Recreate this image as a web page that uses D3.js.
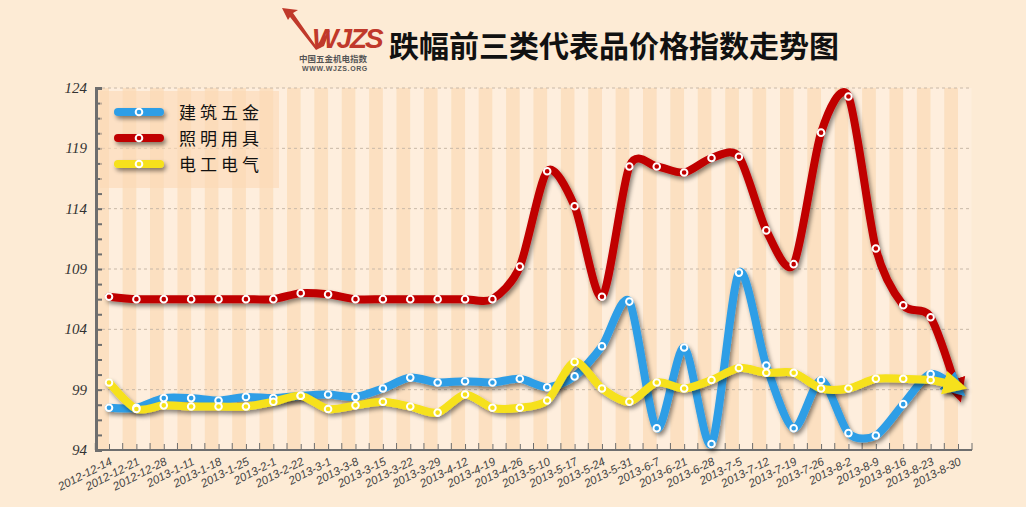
<!DOCTYPE html>
<html><head><meta charset="utf-8">
<script src="https://cdn.jsdelivr.net/npm/d3@7/dist/d3.min.js"></script>
<style>body{margin:0;background:#fdebd5;}svg{display:block;font-family:"Liberation Serif",serif;}</style>
</head><body><svg id="c" width="1026" height="507"></svg>
<script>
// data
const dates = ["2012-12-14","2012-12-21","2012-12-28","2013-1-11","2013-1-18","2013-1-25","2013-2-1","2013-2-22","2013-3-1","2013-3-8","2013-3-15","2013-3-22","2013-3-29","2013-4-12","2013-4-19","2013-4-26","2013-5-10","2013-5-17","2013-5-24","2013-5-31","2013-6-7","2013-6-21","2013-6-28","2013-7-5","2013-7-12","2013-7-19","2013-7-26","2013-8-2","2013-8-9","2013-8-16","2013-8-23","2013-8-30"];
const jianzhu = [97.5,97.5,98.3,98.3,98.1,98.4,98.3,98.5,98.6,98.4,99.1,100.0,99.6,99.7,99.6,99.9,99.2,100.1,102.6,106.3,95.8,102.5,94.5,108.7,101.0,95.8,99.8,95.4,95.2,97.8,100.3,99.0];
const zhaoming = [106.7,106.5,106.5,106.5,106.5,106.5,106.5,107.0,106.9,106.5,106.5,106.5,106.5,106.5,106.5,109.2,117.1,114.2,106.7,117.5,117.5,117.0,118.2,118.3,112.2,109.4,120.3,123.3,110.7,106.0,105.0,98.7];
const diangong = [99.6,97.4,97.7,97.6,97.6,97.6,98.0,98.5,97.4,97.7,98.0,97.6,97.1,98.6,97.5,97.5,98.1,101.3,99.1,98.0,99.6,99.1,99.8,100.8,100.4,100.4,99.1,99.1,99.9,99.9,99.8,99.3];
const yTicks = [94,99,104,109,114,119,124];

const series = [
  {name:"建筑五金", values:jianzhu, color:"#2f9ee6"},
  {name:"照明用具", values:zhaoming, color:"#c00000"},
  {name:"电工电气", values:diangong, color:"#f6e11a"}
];

const svg = d3.select("#c");
const pLeft = 96, pRight = 972, pTop = 88, pBottom = 450;
const x = d3.scalePoint().domain(dates).range([109, 958]);
const y = d3.scaleLinear().domain([94,124]).range([pBottom, pTop]);
const step = x.step();

const defs = svg.append("defs");
const f = defs.append("filter").attr("id","sh").attr("filterUnits","userSpaceOnUse")
  .attr("x",0).attr("y",0).attr("width",1026).attr("height",507);
f.append("feDropShadow").attr("dx",2).attr("dy",3).attr("stdDeviation",2).attr("flood-color","#000").attr("flood-opacity",0.45);
series.forEach((s,i)=>{
  defs.append("marker").attr("id","ar"+i).attr("viewBox","0 0 10 10").attr("refX",6).attr("refY",5)
    .attr("markerWidth",3).attr("markerHeight",3.2).attr("orient","auto")
    .append("path").attr("d","M0,0L10,5L0,10z").attr("fill",s.color);
});

// stripes
const half = [];
dates.forEach((d,i)=>{ half.push({x:x(d)-step/2, k:0}); half.push({x:x(d), k:1}); });
svg.append("g").selectAll("rect").data(half).join("rect")
  .attr("x",d=>d.x).attr("y",pTop).attr("width",step/2).attr("height",pBottom-pTop)
  .attr("fill",(d,i)=>i%2? "#fdf0e0":"#fbdcb8").attr("opacity",0.7);

// grid
svg.append("g").selectAll("line").data(yTicks.slice(1)).join("line")
  .attr("x1",pLeft).attr("x2",pRight).attr("y1",d=>y(d)).attr("y2",d=>y(d))
  .attr("stroke","#c8b8a8").attr("stroke-dasharray","3,3");

// axes
const ya = svg.append("g").attr("transform",`translate(${pLeft},0)`)
  .call(d3.axisLeft(y).tickValues(d3.range(94,125,1.25)).tickSize(-6).tickFormat(""));
ya.select(".domain").attr("stroke","#6e6e6e").attr("stroke-width",3);
ya.selectAll(".tick line").attr("stroke","#6e6e6e").attr("stroke-width",2);
svg.append("g").selectAll("text").data(yTicks).join("text")
  .attr("x",pLeft-9).attr("y",d=>y(d)+5).attr("text-anchor","end")
  .attr("font-size",15).attr("font-style","italic").attr("fill","#333").text(d=>d);

const xa = svg.append("g").attr("transform",`translate(0,${pBottom})`)
  .call(d3.axisBottom(x).tickSize(-6).tickSizeOuter(0).tickFormat(""));
xa.select(".domain").attr("d",`M${pLeft},0H${pRight}`).attr("stroke","#6e6e6e").attr("stroke-width",2);
xa.selectAll(".tick line").attr("stroke","#6e6e6e");
xa.append("g").selectAll("line").data(half.filter(h=>h.k==0).map(h=>h.x).concat([pRight])).join("line")
  .attr("x1",d=>d).attr("x2",d=>d).attr("y1",0).attr("y2",-7).attr("stroke","#6e6e6e");
svg.append("g").selectAll("text").data(dates).join("text")
  .attr("transform",d=>`translate(${x(d)+4},${pBottom+14}) rotate(-27)`)
  .attr("text-anchor","end").attr("font-family","Liberation Sans, sans-serif")
  .attr("font-size",11.5).attr("font-style","italic").attr("fill","#444").text(d=>d);

// lines
const line = d3.line().x((d,i)=>x(dates[i])).y(d=>y(d)).curve(d3.curveCardinal.tension(0.2));
const order = [1,0,2];
order.forEach(i=>{
  const s = series[i];
  svg.append("path").datum(s.values).attr("d",line).attr("fill","none")
    .attr("stroke",s.color).attr("stroke-width",8).attr("stroke-linecap","round")
    .attr("filter","url(#sh)").attr("marker-end","url(#ar"+i+")");
});
order.forEach(i=>{
  const s = series[i];
  svg.append("g").selectAll("circle").data(s.values.slice(0,-1)).join("circle")
    .attr("cx",(d,j)=>x(dates[j])).attr("cy",d=>y(d)).attr("r",3.3)
    .attr("fill",s.color).attr("stroke","#fff").attr("stroke-width",2);
});

// legend
svg.append("rect").attr("x",100).attr("y",91).attr("width",179).attr("height",97).attr("fill","#fbd9b6").attr("opacity",0.6);
series.forEach((s,i)=>{
  const ly = 112 + i*26;
  svg.append("rect").attr("x",114).attr("y",ly-4).attr("width",50).attr("height",8).attr("rx",4)
    .attr("fill",s.color).attr("filter","url(#sh)");
  svg.append("circle").attr("cx",139).attr("cy",ly).attr("r",3.3).attr("fill",s.color).attr("stroke","#fff").attr("stroke-width",2);
  svg.append("text").attr("x",179).attr("y",ly+7).attr("font-family","Noto Sans CJK SC").attr("font-size",17)
    .attr("letter-spacing",4).attr("fill","#111").text(s.name);
});

// title + logo
const lg = svg.append("g");
lg.append("path").attr("d","M288,20L282,8L298,10L293,13L316,46L330,30L324,46L316,50L290,17z").attr("fill","#c0392b");
lg.append("text").attr("x",312).attr("y",48).attr("font-family","Liberation Sans").attr("font-weight","bold")
  .attr("font-style","italic").attr("font-size",28).attr("fill","#c0392b").attr("letter-spacing",-2).text("WJZS");
lg.append("text").attr("x",299).attr("y",62).attr("font-family","Noto Sans CJK SC").attr("font-weight","bold").attr("font-size",8.5).attr("fill","#555").text("中国五金机电指数");
lg.append("text").attr("x",302).attr("y",71).attr("font-family","Liberation Sans").attr("font-weight","bold").attr("font-size",7).attr("fill","#555").attr("letter-spacing",0.6).text("WWW.WJZS.ORG");
svg.append("text").attr("x",389).attr("y",57).attr("font-family","Noto Sans CJK SC").attr("font-weight","bold")
  .attr("font-size",30).attr("fill","#111").text("跌幅前三类代表品价格指数走势图");
</script></body></html>
